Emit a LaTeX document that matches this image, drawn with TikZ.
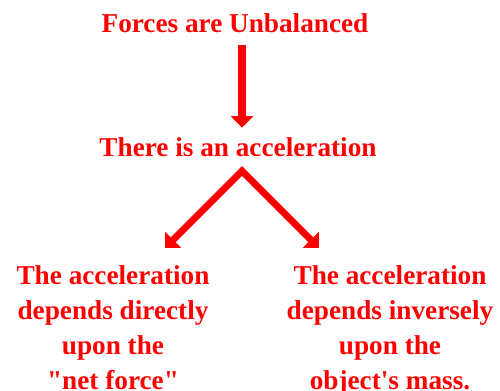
\documentclass[tikz,border=0pt]{standalone}
\usepackage{fontspec}
\setmainfont{Liberation Serif}
\usepackage{xcolor}
\usetikzlibrary{arrows.meta,positioning}
\definecolor{forcered}{RGB}{255,0,0}

\begin{document}
\begin{tikzpicture}[x=0.02cm,y=-0.02cm,
  lbl/.style={text=forcered,inner sep=0pt,font=\fontsize{15.5}{20}\selectfont\bfseries,align=center},
  arr/.style={draw=forcered,line width=4pt,-{Triangle[width=12.5pt,length=6.6pt]}}]
\useasboundingbox (0,0) rectangle (500,391);
\node[lbl,anchor=base] (forces) at (235,33) {Forces are Unbalanced};
\node[lbl,anchor=base] (accel) at (238,157) {There is an acceleration};
\node[lbl,anchor=north] (direct) at (113,265) {The acceleration\\depends directly\\upon the\\\textquotedbl net force\textquotedbl};
\node[lbl,anchor=north] (inverse) at (390,265) {The acceleration\\depends inversely\\upon the\\object\textquotesingle s mass.};
\coordinate (fork) at (242,171);
\coordinate (ltip) at (165,248);
\coordinate (rtip) at (319,248);
% cause -> effect
\draw[arr,shorten <=6.2pt,shorten >=5.7pt] (forces.south -| fork) -- (accel.north -| fork);
\draw[arr,{Triangle[width=12.5pt,length=6.6pt]}-{Triangle[width=12.5pt,length=6.6pt]},miter limit=10] (ltip) -- (fork) -- (rtip);
\end{tikzpicture}
\end{document}
